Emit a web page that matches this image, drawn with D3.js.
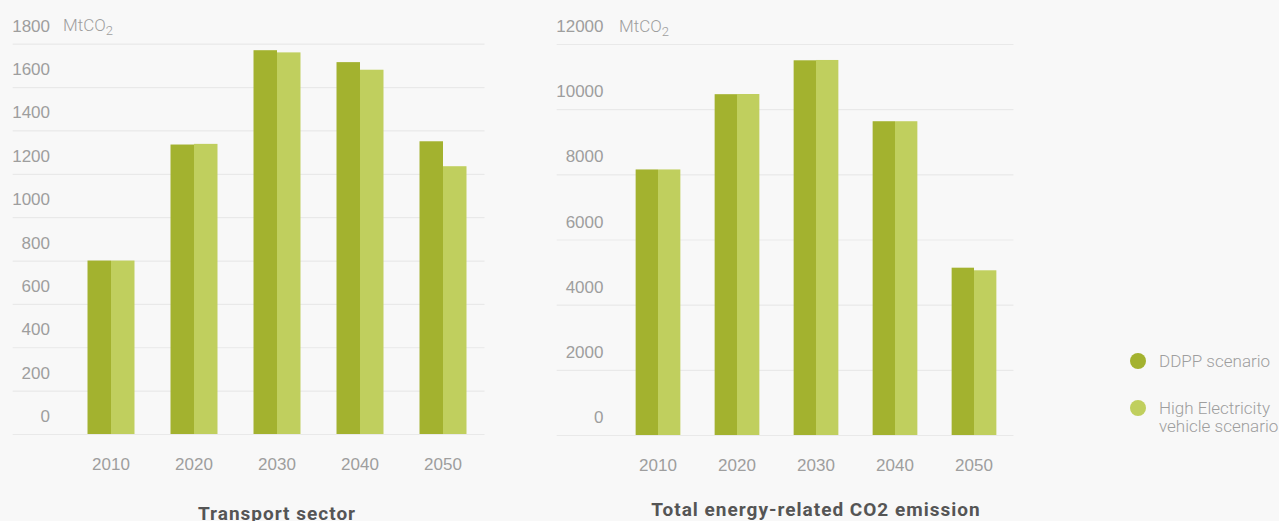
<!DOCTYPE html>
<html>
<head>
<meta charset="utf-8">
<script src="https://cdn.jsdelivr.net/npm/d3@7"></script>
<style>
  html, body { margin: 0; padding: 0; background: #f8f8f8; }
  svg { display: block; font-family: Roboto, "Noto Sans", sans-serif; }
  .tick text, .unit, .legend text { fill: #9e9e9e; font-weight: 300; }
  .title { fill: #555555; font-weight: 700; }
</style>
</head>
<body>
<svg id="chart" width="1279" height="521"></svg>
<script>
// Emissions by year, MtCO2
const years = ["2010", "2020", "2030", "2040", "2050"];
const seriesNames = ["DDPP scenario", "High Electricity vehicle scenario"];

const transportDDPP = [800, 1335, 1770, 1715, 1350];
const transportHEV  = [800, 1338, 1760, 1680, 1235];

const totalDDPP = [8150, 10460, 11500, 9630, 5135];
const totalHEV  = [8150, 10465, 11510, 9630, 5055];

const transportTicks = [0, 200, 400, 600, 800, 1000, 1200, 1400, 1600, 1800];
const totalTicks = [0, 2000, 4000, 6000, 8000, 10000, 12000];

const colors = ["#a3b22f", "#c0cf5e"];

const svg = d3.select("#chart");

function panel(cfg) {
  const g = svg.append("g");

  const y = d3.scaleLinear().domain(cfg.domain).range([cfg.bottom, cfg.top]);
  const x = d3.scaleBand().domain(years)
    .range([cfg.bandStart, cfg.gridEnd])
    .paddingInner(0.434).paddingOuter(0.217);
  const xs = d3.scaleBand().domain([0, 1]).range([0, x.bandwidth()]);

  // horizontal gridlines with labels sitting just above each line
  const yAxis = d3.axisLeft(y).tickValues(cfg.ticks)
    .tickSize(-(cfg.gridEnd - cfg.gridStart)).tickFormat(d3.format("d"));
  const ya = g.append("g")
    .attr("transform", `translate(${cfg.gridStart},0)`)
    .call(yAxis);
  ya.select(".domain").remove();
  ya.selectAll(".tick line").attr("stroke", "#e9e9e9").attr("stroke-width", 1.2);
  ya.selectAll(".tick text")
    .attr("x", cfg.labelRight - cfg.gridStart)
    .attr("dy", -12.5)
    .attr("text-anchor", "end")
    .style("font-size", "17px");

  // unit label beside the top tick
  const topY = y(cfg.domain[1]) - 12.5;
  const unit = g.append("text").attr("class", "unit")
    .attr("x", cfg.unitX).attr("y", topY)
    .style("font-size", "17px");
  unit.append("tspan").text("MtCO");
  unit.append("tspan").text("2").attr("dy", 4).style("font-size", "13px");

  // grouped bars
  const groups = g.append("g").selectAll("g")
    .data(years.map((yr, i) => ({ yr, vals: [cfg.a[i], cfg.b[i]] })))
    .join("g")
    .attr("transform", d => `translate(${x(d.yr)},0)`);
  groups.selectAll("rect")
    .data(d => d.vals.map((v, k) => ({ v, k })))
    .join("rect")
    .attr("x", d => xs(d.k))
    .attr("width", xs.bandwidth())
    .attr("y", d => y(d.v))
    .attr("height", d => y(0) - y(d.v))
    .attr("fill", d => colors[d.k]);

  // category axis
  const xa = g.append("g")
    .attr("transform", `translate(0,${cfg.bottom})`)
    .call(d3.axisBottom(x).tickSize(0));
  xa.select(".domain").remove();
  xa.selectAll(".tick text")
    .attr("y", 0).attr("dy", 36)
    .style("font-size", "17px");

  // panel title
  g.append("text").attr("class", "title")
    .attr("x", (x(years[0]) + x(years[years.length - 1]) + x.bandwidth()) / 2)
    .attr("y", cfg.titleY)
    .attr("text-anchor", "middle")
    .style("font-size", "19px")
    .style("letter-spacing", "1px")
    .text(cfg.title);
}

panel({
  domain: [0, 1800], ticks: transportTicks, a: transportDDPP, b: transportHEV,
  top: 43.7, bottom: 434, gridStart: 12.7, gridEnd: 484.5, bandStart: 69.5,
  labelRight: 50, unitX: 63, title: "Transport sector", titleY: 519.5
});

panel({
  domain: [0, 12000], ticks: totalTicks, a: totalDDPP, b: totalHEV,
  top: 44, bottom: 435, gridStart: 556.7, gridEnd: 1013.5, bandStart: 618.5,
  labelRight: 603.5, unitX: 619, title: "Total energy-related CO2 emission", titleY: 516
});

// legend
const legend = svg.append("g").attr("class", "legend");
const items = legend.selectAll("g").data(seriesNames).join("g")
  .attr("transform", (d, i) => `translate(1138,${361 + i * 47})`);
items.append("circle").attr("r", 8).attr("fill", (d, i) => colors[i]);
items.each(function (d, i) {
  const t = d3.select(this).append("text")
    .attr("x", 21).attr("y", 6)
    .style("font-size", "17px");
  if (i === 0) {
    t.text(d);
  } else {
    t.append("tspan").attr("x", 21).text("High Electricity");
    t.append("tspan").attr("x", 21).attr("dy", 18).text("vehicle scenario");
  }
});
</script>
</body>
</html>
